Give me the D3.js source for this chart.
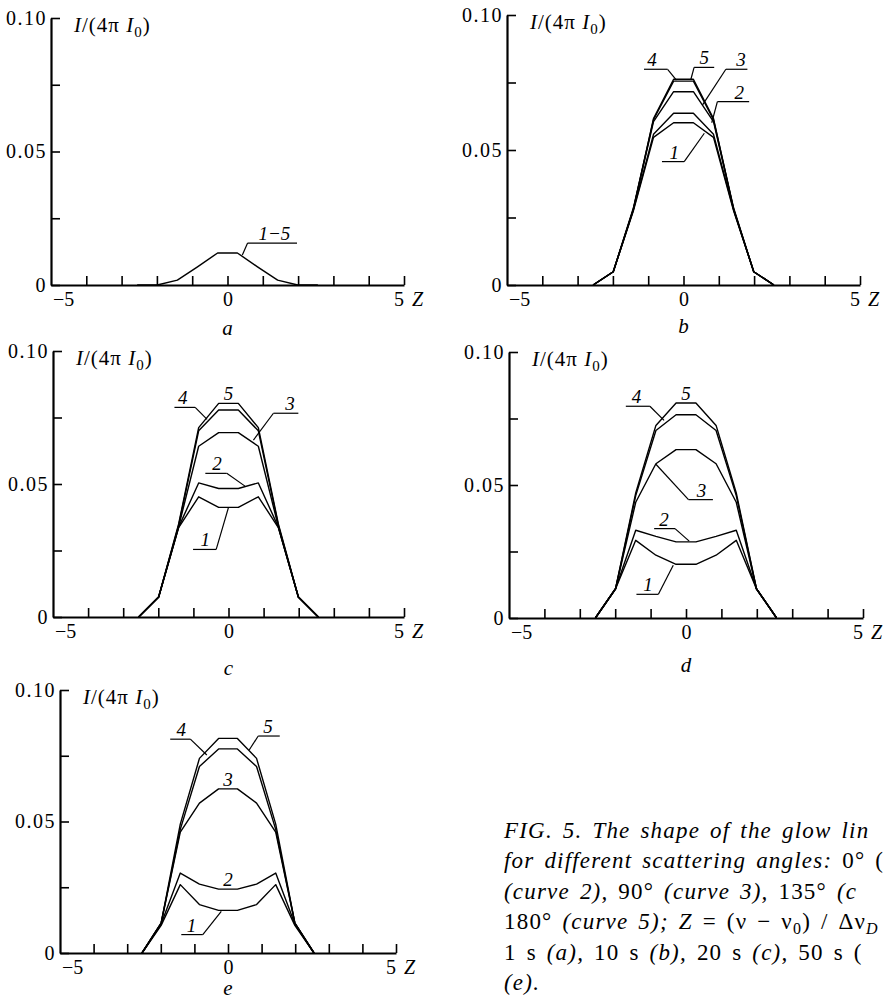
<!DOCTYPE html>
<html>
<head>
<meta charset="utf-8">
<script src="https://cdn.jsdelivr.net/npm/d3@7"></script>
<style>
  body { margin: 0; background: #fff; overflow: hidden; }
  svg { display: block; }
</style>
</head>
<body>
<svg id="fig" width="885" height="999"></svg>
<script>
// Z grid of the computed profiles (same for every panel)
const zGrid = [-2.56, -1.99, -1.42, -0.85, -0.28, 0.28, 0.85, 1.42, 1.99, 2.56];

// a: t = 1 s, curves 1-5 coincide
const a15 = [0, 0, 0.0018, 0.0068, 0.0120, 0.0120, 0.0068, 0.0018, 0, 0];

// b: t = 10 s
const b1 = [0, 0.0049, 0.0275, 0.0547, 0.0601, 0.0601, 0.0547, 0.0275, 0.0049, 0];
const b2 = [0, 0.0049, 0.0278, 0.0558, 0.0636, 0.0636, 0.0558, 0.0278, 0.0049, 0];
const b3 = [0, 0.0049, 0.0282, 0.0605, 0.0716, 0.0716, 0.0605, 0.0282, 0.0049, 0];
const b4 = [0, 0.0049, 0.0285, 0.0612, 0.0755, 0.0755, 0.0612, 0.0285, 0.0049, 0];
const b5 = [0, 0.0049, 0.0280, 0.0616, 0.0762, 0.0762, 0.0616, 0.0280, 0.0049, 0];

// c: t = 20 s
const c1 = [0, 0.0075, 0.0336, 0.0452, 0.0412, 0.0412, 0.0452, 0.0336, 0.0075, 0];
const c2 = [0, 0.0075, 0.0338, 0.0504, 0.0483, 0.0483, 0.0504, 0.0338, 0.0075, 0];
const c3 = [0, 0.0075, 0.0340, 0.0642, 0.0693, 0.0693, 0.0642, 0.0340, 0.0075, 0];
const c4 = [0, 0.0075, 0.0345, 0.0700, 0.0778, 0.0778, 0.0700, 0.0345, 0.0075, 0];
const c5 = [0, 0.0075, 0.0350, 0.0712, 0.0803, 0.0803, 0.0712, 0.0350, 0.0075, 0];

// d: t = 50 s
const d1 = [0, 0.0110, 0.0292, 0.0236, 0.0202, 0.0202, 0.0236, 0.0292, 0.0110, 0];
const d2 = [0, 0.0110, 0.0330, 0.0307, 0.0286, 0.0286, 0.0307, 0.0330, 0.0110, 0];
const d3v = [0, 0.0110, 0.0435, 0.0580, 0.0633, 0.0633, 0.0580, 0.0435, 0.0110, 0];
const d4 = [0, 0.0110, 0.0460, 0.0705, 0.0764, 0.0764, 0.0705, 0.0460, 0.0110, 0];
const d5 = [0, 0.0110, 0.0470, 0.0724, 0.0808, 0.0808, 0.0724, 0.0470, 0.0110, 0];

// e: t = 100 s
const e1 = [0, 0.0105, 0.0260, 0.0184, 0.0162, 0.0162, 0.0184, 0.0260, 0.0105, 0];
const e2 = [0, 0.0110, 0.0304, 0.0262, 0.0243, 0.0243, 0.0262, 0.0304, 0.0110, 0];
const e3 = [0, 0.0114, 0.0460, 0.0570, 0.0624, 0.0624, 0.0570, 0.0460, 0.0114, 0];
const e4 = [0, 0.0114, 0.0470, 0.0709, 0.0776, 0.0776, 0.0709, 0.0470, 0.0114, 0];
const e5 = [0, 0.0114, 0.0490, 0.0740, 0.0816, 0.0816, 0.0740, 0.0490, 0.0114, 0];

// axis ticks
const yTickValues = [0, 0.025, 0.05, 0.075, 0.1];
const yTickText = ["0", "", "0.05", "", "0.10"];
const zTickValues = [-4, -3, -2, -1, 0, 1, 2, 3, 4, 5];

// curve labels, in data units: text at tz, underline u[0]..u[1] at uv,
// leader from underline end u[from] to curve point c
const notesA = [
  { text: "1\u22125", tz: 1.33, u: [0.57, 1.97], uv: 0.0157, from: 0, c: [0.42, 0.0112] }
];
const notesB = [
  { text: "4", tz: -0.89, u: [-1.12, -0.45], uv: 0.0799, from: 1, c: [-0.20, 0.0759] },
  { text: "5", tz: 0.59, u: [0.30, 0.87], uv: 0.0806, from: 0, c: [0.21, 0.0762] },
  { text: "3", tz: 1.63, u: [1.20, 1.81], uv: 0.0799, from: 0, c: [0.54, 0.0667] },
  { text: "2", tz: 1.58, u: [0.96, 1.86], uv: 0.0679, from: 0, c: [0.80, 0.0601] },
  { text: "1", tz: -0.26, u: [-0.61, 0.02], uv: 0.0457, from: 1, c: [0.59, 0.0562] }
];
const notesC = [
  { text: "4", tz: -1.30, u: [-1.54, -0.95], uv: 0.0788, from: 1, c: [-0.61, 0.0743] },
  { text: "5", tz: 0.0, u: null, uv: 0.0803 },
  { text: "3", tz: 1.75, u: [1.28, 1.99], uv: 0.0766, from: 0, c: [0.71, 0.0665] },
  { text: "2", tz: -0.33, u: [-0.66, -0.05], uv: 0.0540, from: 1, c: [0.47, 0.0492] },
  { text: "1", tz: -0.66, u: [-1.01, -0.35], uv: 0.0254, from: 1, c: [0.0, 0.0412] }
];
const notesD = [
  { text: "4", tz: -1.40, u: [-1.70, -1.02], uv: 0.0796, from: 1, c: [-0.62, 0.0743] },
  { text: "5", tz: 0.0, u: null, uv: 0.0808 },
  { text: "3", tz: 0.44, u: [0.07, 0.76], uv: 0.0445, from: 0, c: [-0.85, 0.0578] },
  { text: "2", tz: -0.62, u: [-0.90, -0.31], uv: 0.0336, from: 1, c: [0.09, 0.0289] },
  { text: "1", tz: -1.07, u: [-1.40, -0.78], uv: 0.0089, from: 1, c: [-0.36, 0.0198] }
];
const notesE = [
  { text: "4", tz: -1.39, u: [-1.72, -1.12], uv: 0.0813, from: 1, c: [-0.63, 0.0753] },
  { text: "5", tz: 1.19, u: [0.90, 1.54], uv: 0.0825, from: 0, c: [0.63, 0.0772] },
  { text: "3", tz: 0.0, u: null, uv: 0.0624 },
  { text: "2", tz: 0.0, u: null, uv: 0.0243 },
  { text: "1", tz: -1.09, u: [-1.39, -0.75], uv: 0.0070, from: 1, c: [-0.20, 0.0158] }
];

// panel frames in page pixels
const panels = [
  { letter: "a", x0: 51, x1: 404, top: 18, bottom: 285, ly: 335, series: [a15], notes: notesA },
  { letter: "b", x0: 507, x1: 860, top: 15, bottom: 285, ly: 333, series: [b1, b2, b3, b4, b5], notes: notesB },
  { letter: "c", x0: 53, x1: 404, top: 351, bottom: 617, ly: 675, series: [c1, c2, c3, c4, c5], notes: notesC },
  { letter: "d", x0: 509, x1: 863, top: 352, bottom: 618, ly: 672, series: [d1, d2, d3v, d4, d5], notes: notesD },
  { letter: "e", x0: 60, x1: 396, top: 690, bottom: 953, ly: 995, series: [e1, e2, e3, e4, e5], notes: notesE }
];

// caption as far as the page shows it (it is cut by the right edge of the scan)
// [text, style]: i = italic, n = upright, sub/subi = subscript
const captionLines = [
  [["FIG. 5. The shape of the glow lin", "i"]],
  [["for different scattering angles: ", "i"], ["0\u00b0 (", "n"]],
  [["(curve 2), ", "i"], ["90\u00b0 ", "n"], ["(curve 3), ", "i"], ["135\u00b0 ", "n"], ["(c", "i"]],
  [["180\u00b0 ", "n"], ["(curve 5); ", "i"], ["Z", "i"], [" = (\u03bd \u2212 \u03bd", "n"], ["0", "sub"], [") / \u0394\u03bd", "n"], ["D", "subi"]],
  [["1 s ", "n"], ["(a), ", "i"], ["10 s ", "n"], ["(b), ", "i"], ["20 s ", "n"], ["(c), ", "i"], ["50 s (", "n"]],
  [["(e).", "i"]]
];

const serif = "'Liberation Serif', 'Times New Roman', serif";
const svg = d3.select("#fig");

panels.forEach(p => {
  const x = d3.scaleLinear().domain([-5, 5]).range([p.x0, p.x1]);
  const y = d3.scaleLinear().domain([0, 0.1]).range([p.bottom, p.top]);
  const g = svg.append("g").attr("class", "panel-" + p.letter);

  const line = d3.line().x((d, i) => x(zGrid[i])).y(d => y(d));

  g.selectAll("path.curve")
    .data(p.series).join("path")
    .attr("class", "curve")
    .attr("d", line)
    .attr("fill", "none")
    .attr("stroke", "#000")
    .attr("stroke-width", 1.4)
    .attr("stroke-linejoin", "round");

  // y axis, ticks pointing inward
  const yAxis = d3.axisLeft(y)
    .tickValues(yTickValues)
    .tickFormat((d, i) => yTickText[i])
    .tickSizeInner(-9).tickSizeOuter(0).tickPadding(4);
  const gy = g.append("g").attr("transform", "translate(" + p.x0 + ",0)").call(yAxis);

  // z axis
  const xAxis = d3.axisBottom(x)
    .tickValues(zTickValues)
    .tickFormat(d => d === 0 ? "0" : "")
    .tickSizeInner(-9).tickSizeOuter(0).tickPadding(7);
  const gx = g.append("g").attr("transform", "translate(0," + p.bottom + ")").call(xAxis);

  [gx, gy].forEach(ax => {
    ax.attr("font-family", serif).attr("font-size", 20);
    ax.select(".domain").attr("stroke-width", 2.2);
    ax.selectAll(".tick line").attr("stroke-width", 1.6);
    ax.selectAll(".tick text").attr("fill", "#000");
  });
  gy.selectAll(".tick text").style("letter-spacing", "1.5px");

  // end labels of z axis
  g.append("text")
    .attr("x", p.x0 + 2).attr("y", p.bottom + 21)
    .attr("font-family", serif).attr("font-size", 20)
    .text("\u22125");
  g.append("text")
    .attr("x", x(5)).attr("y", p.bottom + 21)
    .attr("text-anchor", "end")
    .attr("font-family", serif).attr("font-size", 20)
    .text("5");
  g.append("text")
    .attr("x", x(5) + 8).attr("y", p.bottom + 21)
    .attr("font-family", serif).attr("font-size", 20).attr("font-style", "italic")
    .text("Z");

  // quantity label I/(4π I0)
  const q = g.append("text")
    .attr("x", p.x0 + 23).attr("y", p.top + 14)
    .attr("font-family", serif).attr("font-size", 21)
    .style("letter-spacing", "1px");
  q.append("tspan").attr("font-style", "italic").text("I");
  q.append("tspan").text("/(4\u03c0 ");
  q.append("tspan").attr("font-style", "italic").text("I");
  q.append("tspan").attr("font-size", 15).attr("dy", 5).text("0");
  q.append("tspan").attr("dy", -5).text(")");

  // curve labels
  g.selectAll("g.note")
    .data(p.notes).join("g")
    .attr("class", "note")
    .each(function (n) {
      const s = d3.select(this);
      if (n.u) {
        s.append("line")
          .attr("x1", x(n.u[0])).attr("x2", x(n.u[1]))
          .attr("y1", y(n.uv)).attr("y2", y(n.uv))
          .attr("stroke", "#000").attr("stroke-width", 1.2);
        s.append("line")
          .attr("x1", x(n.u[n.from])).attr("y1", y(n.uv))
          .attr("x2", x(n.c[0])).attr("y2", y(n.c[1]))
          .attr("stroke", "#000").attr("stroke-width", 1.2);
      }
      s.append("text")
        .attr("x", x(n.tz)).attr("y", y(n.uv) - 3)
        .attr("text-anchor", "middle")
        .attr("font-family", serif).attr("font-size", 19).attr("font-style", "italic")
        .text(n.text);
    });

  // panel letter
  g.append("text")
    .attr("x", x(0)).attr("y", p.ly)
    .attr("text-anchor", "middle")
    .attr("font-family", serif).attr("font-size", 21).attr("font-style", "italic")
    .text(p.letter);
});

// caption
const cap = svg.append("g").attr("class", "caption")
  .attr("font-family", serif).attr("font-size", 23)
  .style("letter-spacing", "1.2px")
  .style("word-spacing", "3px");
captionLines.forEach((segs, li) => {
  const t = cap.append("text").attr("x", 504).attr("y", 838 + li * 30.4);
  let shift = 0;
  segs.forEach(([txt, st]) => {
    const sub = st === "sub" || st === "subi";
    const dy = (sub ? 5 : 0) - shift;
    shift = sub ? 5 : 0;
    t.append("tspan")
      .attr("dy", dy)
      .attr("font-style", (st === "i" || st === "subi") ? "italic" : "normal")
      .attr("font-size", sub ? 16 : null)
      .text(txt);
  });
});
</script>
</body>
</html>
